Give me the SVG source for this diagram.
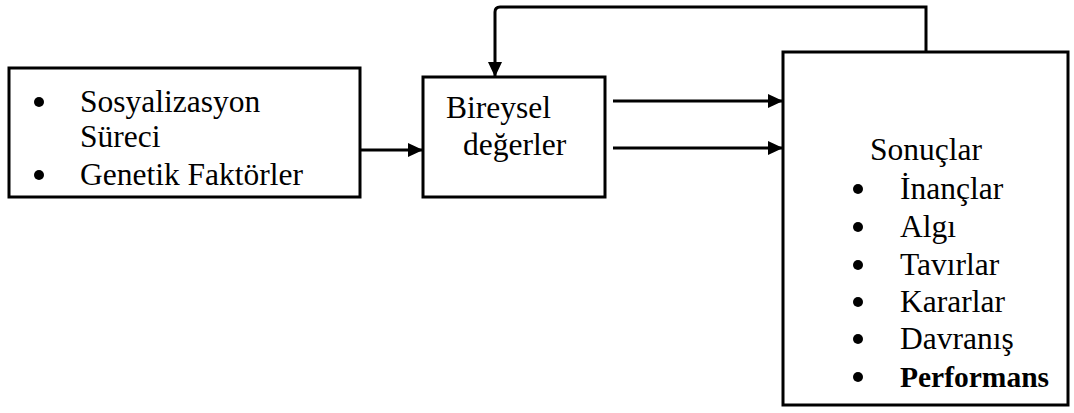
<svg xmlns="http://www.w3.org/2000/svg" width="1074" height="413" viewBox="0 0 1074 413">
  <style>
    .box { fill: #fff; stroke: #000; stroke-width: 3; }
    .t { font-family: 'Liberation Serif', 'Times New Roman', Times, 'DejaVu Serif', serif; font-size: 31.5px; fill: #000; }
    .b { font-weight: bold; font-size: 29.5px; }
    .conn { fill: none; stroke: #000; stroke-width: 3; }
    .dot { fill: #000; }
  </style>
  <defs>
    <marker id="arr" markerUnits="userSpaceOnUse" markerWidth="16" markerHeight="14" refX="15" refY="7" orient="auto">
      <path d="M0,0 L15,7 L0,14 Z" fill="#000"/>
    </marker>
  </defs>
  <rect width="1074" height="413" fill="#fff"/>

  <g id="connectors">
    <line class="conn" x1="360" y1="150" x2="423" y2="150" marker-end="url(#arr)"/>
    <line class="conn" x1="613" y1="101" x2="783" y2="101" marker-end="url(#arr)"/>
    <line class="conn" x1="613" y1="148" x2="783" y2="148" marker-end="url(#arr)"/>
    <path class="conn" d="M926,52 V7 H500 Q495,7 495,12 V77" marker-end="url(#arr)"/>
  </g>

  <g id="node-sources">
    <rect class="box" x="9" y="68" width="351" height="129"/>
    <circle class="dot" cx="39" cy="102" r="5"/>
    <text class="t" x="80" y="112">Sosyalizasyon</text>
    <text class="t" x="80" y="147">Süreci</text>
    <circle class="dot" cx="39" cy="175" r="5"/>
    <text class="t" x="80" y="185">Genetik Faktörler</text>
  </g>

  <g id="node-values">
    <rect class="box" x="423" y="77" width="182" height="120"/>
    <text class="t" x="446" y="118">Bireysel</text>
    <text class="t" x="463" y="155">değerler</text>
  </g>

  <g id="node-results">
    <rect class="box" x="783" y="52" width="285" height="353"/>
    <text class="t" x="870" y="160">Sonuçlar</text>
    <circle class="dot" cx="858" cy="189" r="5"/>
    <text class="t" x="900" y="199">İnançlar</text>
    <circle class="dot" cx="858" cy="227" r="5"/>
    <text class="t" x="900" y="237">Algı</text>
    <circle class="dot" cx="858" cy="265" r="5"/>
    <text class="t" x="900" y="275">Tavırlar</text>
    <circle class="dot" cx="858" cy="302" r="5"/>
    <text class="t" x="900" y="312">Kararlar</text>
    <circle class="dot" cx="858" cy="339" r="5"/>
    <text class="t" x="900" y="349">Davranış</text>
    <circle class="dot" cx="858" cy="377" r="5"/>
    <text class="t b" x="900" y="387">Performans</text>
  </g>
</svg>
